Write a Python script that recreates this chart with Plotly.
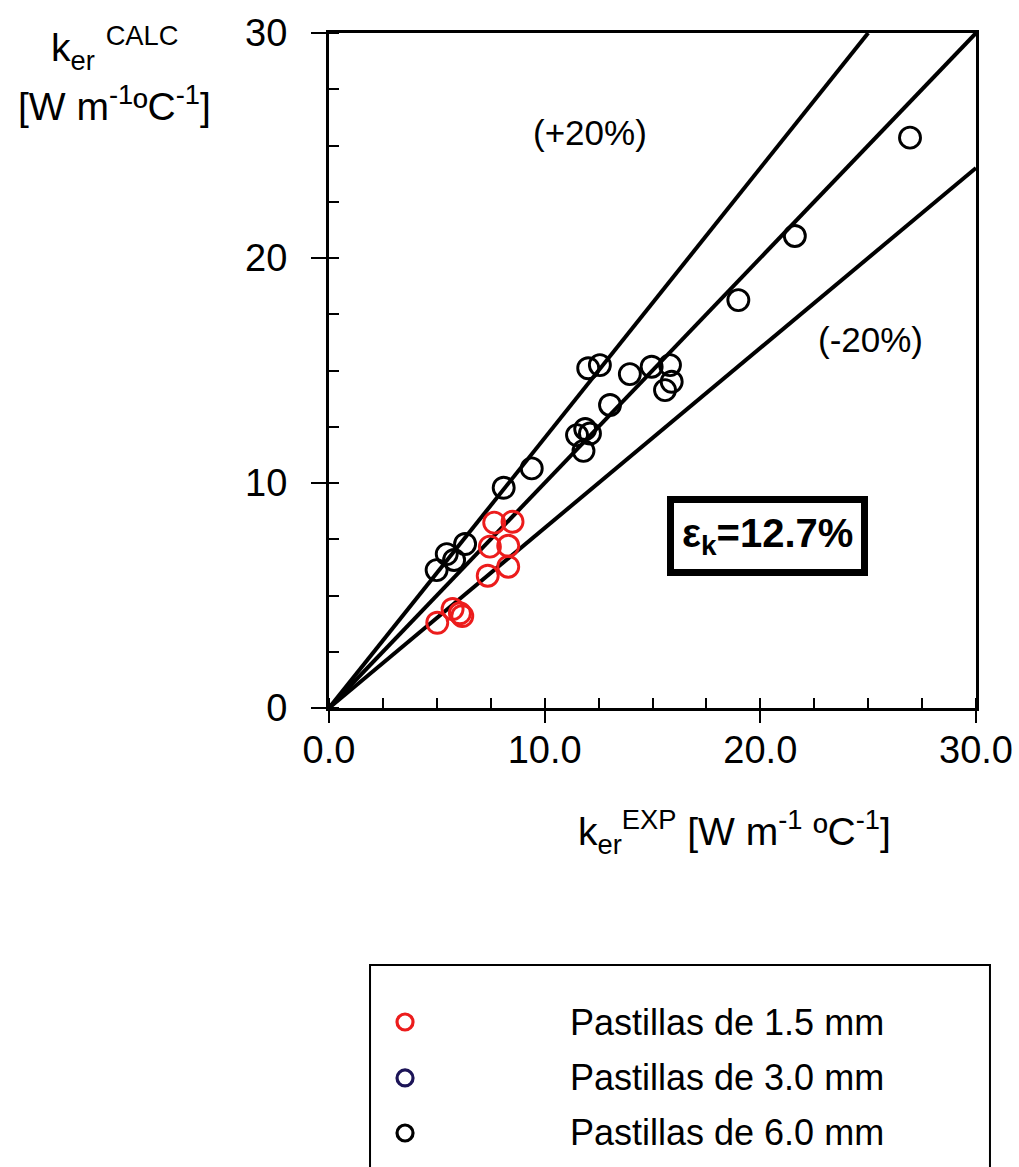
import plotly.graph_objects as go

# ---- data ----
red_x = [5.02, 5.73, 6.07, 6.18, 7.36, 8.31, 7.46, 8.31, 7.66, 8.51]
red_y = [3.79, 4.40, 4.21, 4.09, 5.88, 6.28, 7.17, 7.21, 8.24, 8.28]

blue_x = []
blue_y = []

black_x = [4.99, 5.46, 5.80, 6.31, 8.10, 9.40, 11.50, 11.88, 12.10, 11.80,
           13.03, 12.02, 12.56, 13.95, 14.96, 15.81, 15.89, 15.58,
           18.98, 21.60, 26.94]
black_y = [6.13, 6.84, 6.58, 7.29, 9.79, 10.65, 12.13, 12.40, 12.20, 11.43,
           13.47, 15.10, 15.24, 14.84, 15.17, 15.24, 14.50, 14.13,
           18.13, 20.98, 25.35]

ratio_labels = ["(+20%)", "(-20%)"]
ratios = [1.2, 1.0, 0.8]
legend_labels = ["Pastillas de 1.5 mm", "Pastillas de 3.0 mm", "Pastillas de 6.0 mm"]
x_ticks = [0, 10, 20, 30]
x_ticklabels = ["0.0", "10.0", "20.0", "30.0"]
y_ticks = [0, 10, 20, 30]
y_ticklabels = ["0", "10", "20", "30"]

RED = "#ec1c1c"
NAVY = "#1c1457"
BLACK = "#000000"
FONT = "Liberation Sans, Arial, sans-serif"

fig = go.Figure()

# reference lines y = r * x, clipped at top of the axis
for r in ratios:
    xs = [0, min(30, 30 / r)]
    ys = [r * v for v in xs]
    fig.add_trace(go.Scatter(x=xs, y=ys, mode="lines",
                             line=dict(color=BLACK, width=4),
                             showlegend=False, hoverinfo="skip"))

fig.add_trace(go.Scatter(x=black_x, y=black_y, mode="markers", name=legend_labels[2],
                         marker=dict(symbol="circle-open", size=21, color=BLACK,
                                     line=dict(width=2.9)),
                         showlegend=False))
fig.add_trace(go.Scatter(x=blue_x, y=blue_y, mode="markers", name=legend_labels[1],
                         marker=dict(symbol="circle-open", size=21, color=NAVY,
                                     line=dict(width=2.9)),
                         showlegend=False))
fig.add_trace(go.Scatter(x=red_x, y=red_y, mode="markers", name=legend_labels[0],
                         marker=dict(symbol="circle-open", size=21, color=RED,
                                     line=dict(width=2.9)),
                         showlegend=False))

annotations = []
# +/- 20 % labels
annotations.append(dict(x=12.1, y=25.6, xref="x", yref="y", text=ratio_labels[0],
                        showarrow=False, xanchor="center", yanchor="middle",
                        font=dict(size=35, color=BLACK, family=FONT)))
annotations.append(dict(x=25.1, y=16.4, xref="x", yref="y", text=ratio_labels[1],
                        showarrow=False, xanchor="center", yanchor="middle",
                        font=dict(size=35, color=BLACK, family=FONT)))
# error box
annotations.append(dict(x=20.35, y=7.64, xref="x", yref="y",
                        text="<b>\u03b5<sub>k</sub>=12.7%</b>",
                        showarrow=False, xanchor="center", yanchor="middle",
                        font=dict(size=40, color=BLACK, family=FONT),
                        bgcolor="white", bordercolor=BLACK, borderwidth=7, borderpad=8))
# axis titles
annotations.append(dict(x=-0.3308, y=0.978, xref="paper", yref="paper",
                        text="k<sub>er</sub> <sup>CALC</sup>", showarrow=False,
                        xanchor="center", yanchor="middle",
                        font=dict(size=39, color=BLACK, family=FONT)))
annotations.append(dict(x=-0.3308, y=0.896, xref="paper", yref="paper",
                        text="[W m<sup>-1</sup>\u00baC<sup>-1</sup>]", showarrow=False,
                        xanchor="center", yanchor="middle",
                        font=dict(size=39, color=BLACK, family=FONT)))
annotations.append(dict(x=0.627, y=-0.1837, xref="paper", yref="paper",
                        text="k<sub>er</sub><sup>EXP</sup> [W m<sup>-1</sup> \u00baC<sup>-1</sup>]",
                        showarrow=False, xanchor="center", yanchor="middle",
                        font=dict(size=39, color=BLACK, family=FONT)))

# legend (manual)
leg_y = [-0.4652, -0.5481, -0.6296]
leg_colors = [RED, NAVY, BLACK]
shapes = [dict(type="rect", xref="paper", yref="paper", x0=0.0634, x1=1.0216,
               y0=-0.3807, y1=-0.70, line=dict(color=BLACK, width=2), fillcolor="white",
               layer="below")]
for lab, yy, col in zip(legend_labels, leg_y, leg_colors):
    shapes.append(dict(type="circle", xref="paper", yref="paper",
                       xsizemode="pixel", ysizemode="pixel", xanchor=0.1175, yanchor=yy,
                       x0=-8, x1=8, y0=-8, y1=8, line=dict(color=col, width=3.2)))
    annotations.append(dict(x=0.369, y=yy, xref="paper", yref="paper", text=lab,
                            xanchor="left", yanchor="middle", showarrow=False,
                            font=dict(size=36, color=BLACK, family=FONT)))

fig.update_layout(
    width=1019, height=1167,
    margin=dict(l=329, r=43, t=33, b=459, autoexpand=False),
    paper_bgcolor="white", plot_bgcolor="white",
    font=dict(family=FONT, color=BLACK, size=36),
    annotations=annotations, shapes=shapes,
    showlegend=False,
)
fig.update_xaxes(range=[0, 30], tickvals=x_ticks, ticktext=x_ticklabels,
                 showgrid=False, zeroline=False, showline=True, linecolor=BLACK,
                 linewidth=3, mirror=True, ticks="outside", ticklen=12, tickwidth=1.5,
                 tickcolor=BLACK, tickfont=dict(size=38), ticklabelstandoff=-6,
                 minor=dict(dtick=2.5, ticks="inside", ticklen=10, tickwidth=1.5,
                            tickcolor=BLACK, showgrid=False))
fig.update_yaxes(range=[0, 30], tickvals=y_ticks, ticktext=y_ticklabels,
                 showgrid=False, zeroline=False, showline=True, linecolor=BLACK,
                 linewidth=3, mirror=True, ticks="outside", ticklen=15, tickwidth=1.5,
                 tickcolor=BLACK, tickfont=dict(size=38), ticklabelstandoff=16,
                 minor=dict(dtick=2.5, ticks="inside", ticklen=10, tickwidth=1.5,
                            tickcolor=BLACK, showgrid=False))

fig.write_html("out.html")
